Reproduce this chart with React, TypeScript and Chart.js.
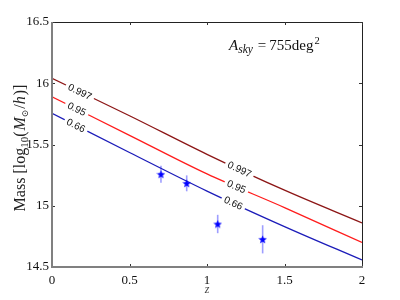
import React, { useEffect, useRef } from "react";
import { Chart, registerables } from "chart.js";
Chart.register(...registerables);

const zGrid = [0, 0.5, 1, 1.5, 2];
const mass997 = [16.04, 15.735, 15.42, 15.127, 14.86];
const mass95 = [15.89, 15.575, 15.26, 14.985, 14.7];
const mass66 = [15.755, 15.435, 15.12, 14.83, 14.557];
const clusterZ = [0.703, 0.869, 1.069, 1.359];
const clusterMass = [15.257, 15.183, 14.851, 14.726];
const clusterErr = [0.07, 0.065, 0.075, 0.115];
const xTicks = [0, 0.5, 1, 1.5, 2];
const yTicks = [14.5, 15, 15.5, 16, 16.5];
const contourLabels = ["0.997", "0.95", "0.66"];
const labelZ = [
  [0.18, 1.21],
  [0.16, 1.19],
  [0.155, 1.17],
];
const curveColors = ["rgb(140,22,22)", "rgb(255,28,28)", "rgb(28,28,185)"];

function makeStar(size: number, color: string) {
  const c = document.createElement("canvas");
  c.width = size;
  c.height = size;
  const g = c.getContext("2d")!;
  const cx = size / 2, cy = size / 2 + 0.4, R = size / 2, r = R * 0.42;
  g.beginPath();
  for (let i = 0; i < 10; i++) {
    const a = -Math.PI / 2 + (i * Math.PI) / 5;
    const rad = i % 2 ? r : R;
    g.lineTo(cx + rad * Math.cos(a), cy + rad * Math.sin(a));
  }
  g.closePath();
  g.fillStyle = color;
  g.fill();
  return c;
}

type Run = { t: string; f: string; dy?: number; gap?: number };
function drawRuns(ctx: CanvasRenderingContext2D, runs: Run[], x: number, y: number, align: "left" | "center") {
  let total = 0;
  for (const r of runs) {
    ctx.font = r.f;
    total += ctx.measureText(r.t).width + (r.gap || 0);
  }
  let cx = align === "center" ? x - total / 2 : x;
  ctx.textAlign = "left";
  ctx.textBaseline = "alphabetic";
  for (const r of runs) {
    ctx.font = r.f;
    ctx.fillText(r.t, cx, y + (r.dy || 0));
    cx += ctx.measureText(r.t).width + (r.gap || 0);
  }
}

function interp(xs: number[], ys: number[], x: number) {
  for (let i = 0; i < xs.length - 1; i++) {
    if (x >= xs[i] && x <= xs[i + 1]) {
      const t = (x - xs[i]) / (xs[i + 1] - xs[i]);
      return { y: ys[i] + t * (ys[i + 1] - ys[i]), i };
    }
  }
  return { y: ys[ys.length - 1], i: xs.length - 2 };
}

const SERIF = "'Liberation Serif', 'Times New Roman', serif";

const decorPlugin = {
  id: "decor",
  beforeDatasetsDraw(chart: any) {
    const ctx = chart.ctx as CanvasRenderingContext2D;
    const xs = chart.scales.x, ys = chart.scales.y;
    ctx.save();
    ctx.strokeStyle = "rgba(40,40,255,0.45)";
    ctx.lineWidth = 1.6;
    clusterZ.forEach((z, i) => {
      const px = xs.getPixelForValue(z);
      ctx.beginPath();
      ctx.moveTo(px, ys.getPixelForValue(clusterMass[i] + clusterErr[i]));
      ctx.lineTo(px, ys.getPixelForValue(clusterMass[i] - clusterErr[i]));
      ctx.stroke();
    });
    ctx.restore();
  },
  afterDatasetsDraw(chart: any) {
    const ctx = chart.ctx as CanvasRenderingContext2D;
    const xs = chart.scales.x, ys = chart.scales.y;
    const area = chart.chartArea;
    const curves = [mass997, mass95, mass66];
    ctx.save();
    // contour labels
    ctx.font = "10px 'Liberation Sans', Arial, sans-serif";
    curves.forEach((curve, ci) => {
      labelZ[ci].forEach((z) => {
        const { y, i } = interp(zGrid, curve, z);
        const px = xs.getPixelForValue(z), py = ys.getPixelForValue(y);
        const x0 = xs.getPixelForValue(zGrid[i]), y0 = ys.getPixelForValue(curve[i]);
        const x1 = xs.getPixelForValue(zGrid[i + 1]), y1 = ys.getPixelForValue(curve[i + 1]);
        const ang = Math.atan2(y1 - y0, x1 - x0);
        const w = ctx.measureText(contourLabels[ci]).width;
        ctx.save();
        ctx.translate(px, py);
        ctx.rotate(ang);
        ctx.fillStyle = "#fff";
        ctx.fillRect(-w / 2 - 3, -5, w + 6, 10);
        ctx.fillStyle = "#111";
        ctx.textAlign = "center";
        ctx.textBaseline = "middle";
        ctx.fillText(contourLabels[ci], 0, 0.5);
        ctx.restore();
      });
    });
    // frame
    ctx.lineWidth = 1;
    ctx.strokeStyle = "#222";
    ctx.beginPath();
    ctx.moveTo(area.left, area.top + 0.5);
    ctx.lineTo(area.right + 0.5, area.top + 0.5);
    ctx.lineTo(area.right + 0.5, area.bottom);
    ctx.stroke();
    // inward ticks
    ctx.strokeStyle = "#333";
    xTicks.forEach((v) => {
      const px = Math.round(xs.getPixelForValue(v)) + 0.5;
      ctx.beginPath();
      ctx.moveTo(px, area.bottom);
      ctx.lineTo(px, area.bottom - 3);
      ctx.moveTo(px, area.top);
      ctx.lineTo(px, area.top + 3);
      ctx.stroke();
    });
    yTicks.forEach((v) => {
      const py = Math.round(ys.getPixelForValue(v)) + 0.5;
      ctx.beginPath();
      ctx.moveTo(area.left, py);
      ctx.lineTo(area.left + 3, py);
      ctx.moveTo(area.right, py);
      ctx.lineTo(area.right - 3, py);
      ctx.stroke();
    });
    ctx.strokeStyle = "#808080";
    ctx.lineWidth = 2;
    ctx.beginPath();
    ctx.moveTo(area.left, area.top);
    ctx.lineTo(area.left, area.bottom);
    ctx.lineTo(area.right + 1, area.bottom);
    ctx.stroke();
    // y title
    ctx.fillStyle = "#222";
    ctx.save();
    ctx.translate(25, 148);
    ctx.rotate(-Math.PI / 2);
    drawRuns(
      ctx,
      [
        { t: "Mass [log", f: `16px ${SERIF}` },
        { t: "10", f: `11px ${SERIF}`, dy: 3 },
        { t: "(", f: `16px ${SERIF}`, gap: 1 },
        { t: "M", f: `italic 16px ${SERIF}` },
        { t: "⊙", f: `9px 'DejaVu Serif', serif`, dy: 3, gap: 1 },
        { t: "/", f: `16px ${SERIF}` },
        { t: "h", f: `italic 16px ${SERIF}`, gap: 1 },
        { t: ")]", f: `16px ${SERIF}` },
      ],
      0,
      0,
      "center"
    );
    ctx.restore();
    // x title
    ctx.fillStyle = "#444";
    drawRuns(ctx, [{ t: "z", f: `italic 12px ${SERIF}` }], (area.left + area.right) / 2, 293, "center");
    // annotation
    ctx.fillStyle = "#111";
    drawRuns(
      ctx,
      [
        { t: "A", f: `italic 15px ${SERIF}` },
        { t: "sky", f: `italic 11.5px ${SERIF}`, dy: 3, gap: 5 },
        { t: "=", f: `15px ${SERIF}`, gap: 3 },
        { t: "755deg", f: `15px ${SERIF}`, gap: 1 },
        { t: "2", f: `10.5px ${SERIF}`, dy: -6 },
      ],
      229,
      50,
      "left"
    );
    ctx.restore();
  },
};

export default function App() {
  const ref = useRef<HTMLCanvasElement>(null);
  useEffect(() => {
    const star = makeStar(9, "rgb(0,0,255)");
    const curveSets = [mass997, mass95, mass66].map((m, i) => ({
      type: "line" as const,
      data: zGrid.map((z, j) => ({ x: z, y: m[j] })),
      borderColor: curveColors[i],
      borderWidth: 1.3,
      pointRadius: 0,
      cubicInterpolationMode: "monotone" as const,
      fill: false,
      order: 2,
    }));
    const chart = new Chart(ref.current!, {
      type: "line",
      data: {
        datasets: [
          {
            type: "line",
            data: clusterZ.map((z, i) => ({ x: z, y: clusterMass[i] })),
            showLine: false,
            pointStyle: star as any,
            pointRadius: 4.5,
            borderColor: "blue",
            backgroundColor: "blue",
            order: 1,
          } as any,
          ...curveSets,
        ],
      },
      options: {
        animation: false,
        responsive: true,
        maintainAspectRatio: false,
        layout: { padding: { top: 22, right: 38, left: 0, bottom: 0 } },
        plugins: { legend: { display: false }, tooltip: { enabled: false } },
        scales: {
          x: {
            type: "linear",
            min: 0,
            max: 2,
            afterBuildTicks: (s: any) => {
              s.ticks = xTicks.map((v) => ({ value: v }));
            },
            afterFit: (s: any) => {
              s.height = 33;
            },
            grid: { display: false, drawTicks: false },
            border: { display: false },
            ticks: {
              padding: 6,
              color: "#111",
              font: { family: SERIF, size: 13 },
              callback: (v: any) => String(v),
              maxRotation: 0,
            },
          },
          y: {
            type: "linear",
            min: 14.5,
            max: 16.5,
            afterBuildTicks: (s: any) => {
              s.ticks = yTicks.map((v) => ({ value: v }));
            },
            afterFit: (s: any) => {
              s.width = 52;
            },
            grid: { display: false, drawTicks: false },
            border: { display: false },
            ticks: {
              padding: 3,
              color: "#111",
              font: { family: SERIF, size: 13 },
              callback: (v: any) => String(v),
            },
          },
        },
      },
      plugins: [decorPlugin],
    });
    return () => chart.destroy();
  }, []);
  return (
    <div style={{ position: "fixed", left: 0, top: 0, width: 400, height: 300, background: "#fff" }}>
      <canvas ref={ref} />
    </div>
  );
}
